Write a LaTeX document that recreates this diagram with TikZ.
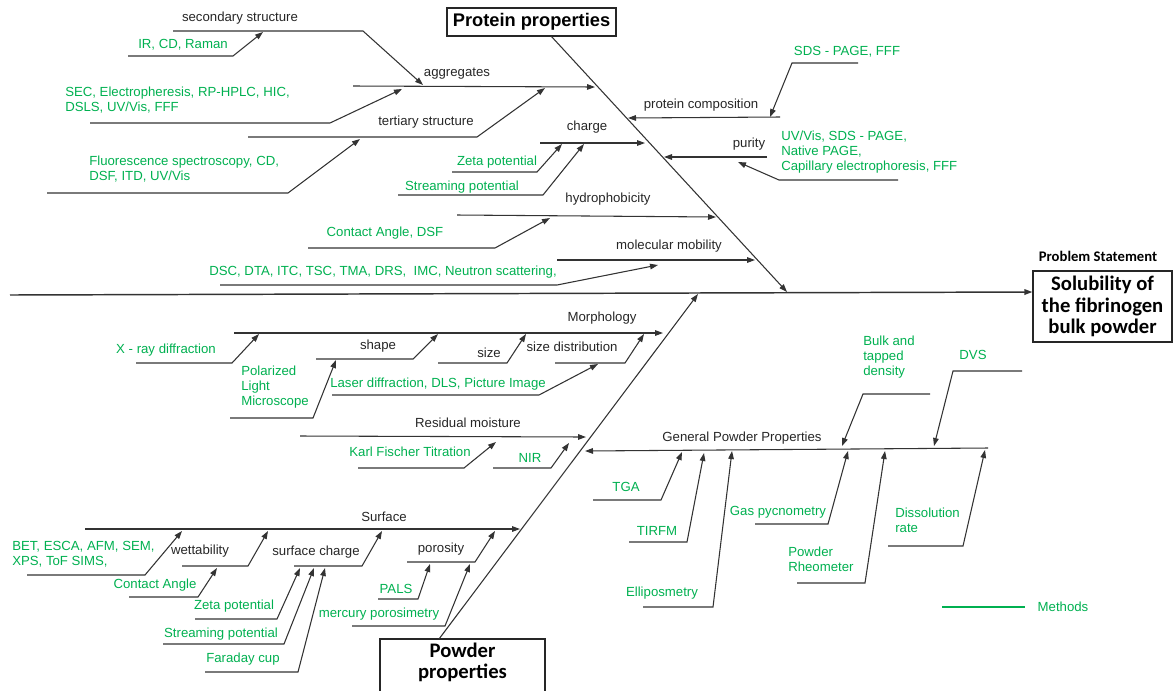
\documentclass[tikz,border=0pt]{standalone}
\usepackage{fontspec}
\setmainfont{Liberation Sans}
\newfontfamily\calfont{Carlito}
\usetikzlibrary{arrows.meta}
\definecolor{methgreen}{RGB}{0,176,80}

\begin{document}
\begin{tikzpicture}[x=0.75pt,y=-0.75pt,
    bone/.style={draw=black!80,line width=0.8pt},
    arr/.style={bone,-{Triangle[length=6pt,width=4.2pt]}},
    lbl/.style={font=\fontsize{9.9}{11.3}\selectfont,text=black!85,inner sep=0pt},
    meth/.style={lbl,text=methgreen,align=left},
    headbox/.style={draw=black!85,line width=0.9pt,inner sep=0pt,align=center,
      font=\calfont\bfseries\fontsize{15.5}{16.2}\selectfont}]
  \useasboundingbox (0,0) rectangle (1173,690);

  % spine and the two main bones
  \node[headbox,minimum width=104.3pt,minimum height=53.3pt] (Prob) at (1102.5,306.5)
    {Solubility of\\the fibrinogen\\bulk powder};
  \node[inner sep=0pt,font=\calfont\bfseries\fontsize{11}{13}\selectfont] (ProbSt) at (1098,256) {Problem Statement};
  \draw[arr,line width=1.1pt] (10,295) -- (Prob.west |- 0,292);

  \node[draw=black!85,line width=0.9pt,minimum width=126.8pt,minimum height=21pt,inner sep=0pt,
    font=\bfseries\fontsize{13.7}{15}\selectfont] (Prot) at (531.5,22) {Protein properties};
  \draw[arr] (551,36) -- (787,292);

  \draw[draw=black!85,line width=0.9pt] (380,700) -- (380,639) -- (545,639) -- (545,700);
  \node[headbox,draw=none] (Powd) at (462.5,662.5) {Powder\\properties};
  \draw[arr] (439,639) -- (698,294);

  % protein side
  \draw[arr] (173,31) -- (363,31) -- (423,85);
  \node[lbl] (SecStr) at (240,18) {secondary structure};
  \draw[arr] (128,56) -- (233,56) -- (263,32);
  \node[meth] (IR) at (183,45) {IR, CD, Raman};
  \draw[arr] (353,86) -- (595,87);
  \node[lbl] (Aggr) at (457,74) {aggregates};
  \draw[arr] (90,123) -- (330,123) -- (402,89);
  \node[meth,anchor=west] (Sec) at (65,100.5) {SEC, Electropheresis, RP-HPLC, HIC,\\DSLS, UV/Vis, FFF};
  \draw[arr] (248,137) -- (477,137) -- (545,88);
  \node[lbl] (TerStr) at (426,122) {tertiary structure};
  \draw[arr] (47,193) -- (288,193) -- (360,139);
  \node[meth,anchor=west] (Fluo) at (89,169.5) {Fluorescence spectroscopy, CD,\\DSF, ITD, UV/Vis};

  \draw[arr] (540,143) -- (645,143);
  \node[lbl] (Charge) at (587,127) {charge};
  \draw[arr] (452,172) -- (537,172) -- (562,144);
  \node[meth] (Zeta) at (497,162) {Zeta potential};
  \draw[arr] (398,195) -- (543,195) -- (584,144);
  \node[meth] (Stream) at (462,187) {Streaming potential};

  \draw[arr] (780,117) -- (628,118);
  \node[lbl] (Comp) at (701,105) {protein composition};
  \draw[arr] (858,63) -- (792,63) -- (770,117);
  \node[meth] (Sds) at (847,52) {SDS - PAGE, FFF};
  \draw[arr] (767,157) -- (664,157);
  \node[lbl] (Pur) at (749,144) {purity};
  \draw[arr] (898,180) -- (779,180) -- (738,162);
  \node[meth,anchor=west] (PurM) at (781,152) {UV/Vis, SDS - PAGE,\\Native PAGE,\\Capillary electrophoresis, FFF};

  \draw[arr] (457,215) -- (716,217);
  \node[lbl] (Hyd) at (608,199) {hydrophobicity};
  \draw[arr] (308,248) -- (495,248) -- (550,218);
  \node[meth] (HydM) at (385,233) {Contact Angle, DSF};
  \draw[arr] (557,260) -- (755,260);
  \node[lbl] (Mob) at (669,246) {molecular mobility};
  \draw[arr] (220,285) -- (557,285) -- (658,265);
  \node[meth] (MobM) at (383,272) {DSC, DTA, ITC, TSC, TMA, DRS,\ \ IMC, Neutron scattering,};

  % powder side
  \draw[arr] (234,333) -- (663,333);
  \node[lbl] (Morph) at (602,318) {Morphology};
  \draw[arr] (136,363) -- (232,363) -- (259,334);
  \node[meth] (Xray) at (166,350) {X - ray diffraction};
  \draw[arr] (316,359) -- (413,359) -- (438,334);
  \node[lbl] (Shape) at (378,346) {shape};
  \draw[arr] (438,363) -- (507,363) -- (526,334);
  \node[lbl] (Size) at (489,353) {size};
  \draw[arr] (555,363) -- (625,363) -- (644,334);
  \node[lbl] (SizeD) at (572,347) {size distribution};
  \draw[arr] (230,418) -- (313,418) -- (336,360);
  \node[meth,anchor=west] (Plm) at (241,387) {Polarized\\Light\\Microscope};
  \draw[arr] (332,395) -- (539,395) -- (598,364);
  \node[meth] (Laser) at (438,384) {Laser diffraction, DLS, Picture Image};

  \draw[arr] (300,436) -- (586,437);
  \node[lbl] (Moist) at (468,423) {Residual moisture};
  \draw[arr] (358,468) -- (464,468) -- (496,442);
  \node[meth] (Kft) at (410,452) {Karl Fischer Titration};
  \draw[arr] (493,468) -- (551,468) -- (569,443);
  \node[meth] (Nir) at (530,458) {NIR};

  \draw[arr] (85,529) -- (520,529);
  \node[lbl] (Surf) at (384,517) {Surface};
  \draw[arr] (27,575) -- (145,575) -- (182,531);
  \node[meth,anchor=west] (Bet) at (12,554) {BET, ESCA, AFM, SEM,\\XPS, ToF SIMS,};
  \draw[arr] (182,566) -- (248,566) -- (268,531);
  \node[lbl] (Wett) at (200,551) {wettability};
  \draw[arr] (129,597) -- (198,597) -- (217,568);
  \node[meth] (Cang) at (155,585) {Contact Angle};
  \draw[arr] (294,566) -- (362,566) -- (382,531);
  \node[lbl] (SurfCh) at (316,552) {surface charge};
  \draw[arr] (195,619) -- (277,619) -- (300,568);
  \node[meth] (Zeta2) at (234,606) {Zeta potential};
  \draw[arr] (163,644) -- (284,644) -- (314,568);
  \node[meth] (Stream2) at (221,634) {Streaming potential};
  \draw[arr] (205,672) -- (298,672) -- (325,568);
  \node[meth] (Faraday) at (243,659) {Faraday cup};
  \draw[arr] (407,562) -- (475,562) -- (495,531);
  \node[lbl] (Poros) at (441,549) {porosity};
  \draw[arr] (378,599) -- (418,599) -- (430,564);
  \node[meth] (Pals) at (396,589) {PALS};
  \draw[arr] (352,626) -- (445,626) -- (470,564);
  \node[meth] (Merc) at (379,614) {mercury porosimetry};

  \draw[arr] (988,448) -- (585,451);
  \node[lbl] (Gpp) at (742,438) {General Powder Properties};
  \draw[arr] (593,500) -- (661,500) -- (682,452);
  \node[meth] (Tga) at (626,487) {TGA};
  \draw[arr] (629,542) -- (687,542) -- (704,453);
  \node[meth] (Tirfm) at (657,531) {TIRFM};
  \draw[arr] (643,607) -- (713,607) -- (732,451);
  \node[meth] (Ellip) at (662,593) {Elliposmetry};
  \draw[arr] (755,524) -- (828,524) -- (848,451);
  \node[meth] (Gas) at (778,512) {Gas pycnometry};
  \draw[arr] (797,583) -- (865,583) -- (885,451);
  \node[meth,anchor=west] (Rheo) at (788,559.5) {Powder\\Rheometer};
  \draw[arr] (888,546) -- (963,546) -- (985,450);
  \node[meth,anchor=west] (Diss) at (895,520) {Dissolution\\rate};
  \draw[arr] (930,394) -- (863,394) -- (842,446);
  \node[meth,anchor=west] (Bulk) at (863,357) {Bulk and\\tapped\\density};
  \draw[arr] (1022,371) -- (953,371) -- (934,446);
  \node[meth] (Dvs) at (973,355) {DVS};

  % legend
  \draw[methgreen,line width=0.8pt] (942,607) -- (1025,607);
  \node[meth] (Leg) at (1063,607) {Methods};
\end{tikzpicture}
\end{document}
